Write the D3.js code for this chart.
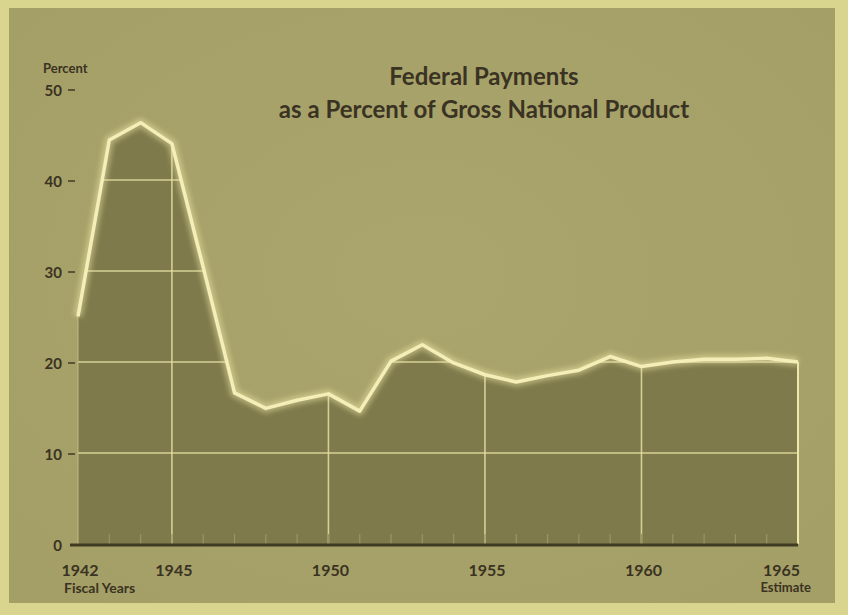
<!DOCTYPE html>
<html>
<head>
<meta charset="utf-8">
<script src="https://cdn.jsdelivr.net/npm/d3@7/dist/d3.min.js"></script>
<style>
  html, body { margin: 0; padding: 0; background: #a9a46b; }
  svg { display: block; }
  text { font-family: "Lato", "DejaVu Sans", sans-serif; fill: #3a3222; }
</style>
</head>
<body>
<script>
// ---- data ----
const years = [1942,1943,1944,1945,1946,1947,1948,1949,1950,1951,1952,1953,1954,1955,1956,1957,1958,1959,1960,1961,1962,1963,1964,1965];
const percent = [25.0,44.4,46.3,44.0,30.4,16.6,14.9,15.8,16.5,14.6,20.1,21.9,19.9,18.6,17.8,18.5,19.1,20.6,19.5,20.0,20.3,20.3,20.4,20.0];
const yTicks = [0,10,20,30,40,50];
const xTickYears = [1942,1945,1950,1955,1960,1965];
const gridYears = [1945,1950,1955,1960];
const titleLines = ["Federal Payments", "as a Percent of Gross National Product"];

const W = 848, H = 615;
const svg = d3.select("body").append("svg").attr("width", W).attr("height", H);

const defs = svg.append("defs");
const glow = defs.append("filter").attr("id","glow").attr("x","-10%").attr("y","-10%").attr("width","120%").attr("height","120%");
glow.append("feGaussianBlur").attr("stdDeviation", 2.5);
const bgGrad = defs.append("radialGradient").attr("id","bg").attr("cx","50%").attr("cy","45%").attr("r","70%");
bgGrad.append("stop").attr("offset","0%").attr("stop-color","#aaa56c");
bgGrad.append("stop").attr("offset","100%").attr("stop-color","#a49f66");

// frame
svg.append("rect").attr("x",0).attr("y",0).attr("width",W).attr("height",H).attr("fill","#d9d48e");
svg.append("rect").attr("x",9).attr("y",8).attr("width",W-22).attr("height",H-20).attr("fill","url(#bg)");

const x = d3.scaleLinear().domain([1942,1965]).range([78,798]);
const y = d3.scaleLinear().domain([0,50]).range([544,89]);

const data = years.map((yr,i)=>({yr, v:percent[i]}));

const area = d3.area().x(d=>x(d.yr)).y0(y(0)).y1(d=>y(d.v));
const line = d3.line().x(d=>x(d.yr)).y(d=>y(d.v));

defs.append("clipPath").attr("id","areaClip").append("path").attr("d", area(data));

svg.append("path").attr("d", area(data)).attr("fill","#7e7a4b");

// gridlines inside area
const g = svg.append("g").attr("clip-path","url(#areaClip)");
g.selectAll("line.h").data(yTicks.filter(t=>t>0 && t<50)).join("line")
  .attr("x1", x(1942)).attr("x2", x(1965)).attr("y1", d=>y(d)).attr("y2", d=>y(d))
  .attr("stroke","#e6dfa4").attr("stroke-width",1.6).attr("opacity",0.85);
g.selectAll("line.v").data(gridYears).join("line")
  .attr("x1", d=>x(d)).attr("x2", d=>x(d)).attr("y1", y(50)).attr("y2", y(0))
  .attr("stroke","#e6dfa4").attr("stroke-width",1.6).attr("opacity",0.85);
// small year ticks
g.selectAll("line.t").data(d3.range(1943,1965)).join("line")
  .attr("x1", d=>x(d)).attr("x2", d=>x(d)).attr("y1", y(0)-10).attr("y2", y(0))
  .attr("stroke","#9a9565").attr("stroke-width",1.2);

// right and left edges
svg.append("line").attr("x1",x(1965)).attr("x2",x(1965)).attr("y1",y(percent[percent.length-1])).attr("y2",y(0))
  .attr("stroke","#ede6ad").attr("stroke-width",2);
svg.append("line").attr("x1",x(1942)).attr("x2",x(1942)).attr("y1",y(percent[0])).attr("y2",y(0))
  .attr("stroke","#c9c38a").attr("stroke-width",1.2).attr("opacity",0.7);

// glowing line
svg.append("path").attr("d", line(data)).attr("fill","none").attr("stroke","#ece5a6")
  .attr("stroke-width",9).attr("stroke-linejoin","round").attr("opacity",0.5).attr("filter","url(#glow)");
svg.append("path").attr("d", line(data)).attr("fill","none").attr("stroke","#f4eeb8")
  .attr("stroke-width",3.5).attr("stroke-linejoin","round");

// baseline
svg.append("line").attr("x1",70).attr("x2",x(1965)).attr("y1",y(0)+1).attr("y2",y(0)+1)
  .attr("stroke","#3e3b22").attr("stroke-width",3);

// y axis labels
const yl = svg.append("g");
yl.selectAll("text").data(yTicks).join("text")
  .attr("x",62).attr("y",d=>y(d)+7).attr("text-anchor","end")
  .attr("font-size",15).attr("font-weight",700).text(d=>d);
yl.selectAll("line").data(yTicks.filter(t=>t>0)).join("line")
  .attr("x1",68).attr("x2",75).attr("y1",d=>y(d)+1).attr("y2",d=>y(d)+1)
  .attr("stroke","#3a3222").attr("stroke-width",1.4);
svg.append("text").attr("x",43).attr("y",73).attr("font-size",13).attr("font-weight",700).text("Percent");

// x axis labels
svg.append("g").selectAll("text").data(xTickYears).join("text")
  .attr("x",d=> d===1965 ? x(d)+2 : x(d)+2)
  .attr("text-anchor",d=> d===1965 ? "end" : "middle")
  .attr("y",576)
  .attr("font-size",16).attr("font-weight",700).text(d=>d);
svg.append("text").attr("x",64).attr("y",593).attr("font-size",14).attr("font-weight",700).text("Fiscal Years");
svg.append("text").attr("x",x(1965)+13).attr("y",592).attr("text-anchor","end").attr("font-size",13).attr("font-weight",700).text("Estimate");

// title
svg.append("g").selectAll("text").data(titleLines).join("text")
  .attr("x",484).attr("y",(d,i)=>85+i*33).attr("text-anchor","middle")
  .attr("font-size",24).attr("font-weight",700).text(d=>d);
</script>
</body>
</html>
